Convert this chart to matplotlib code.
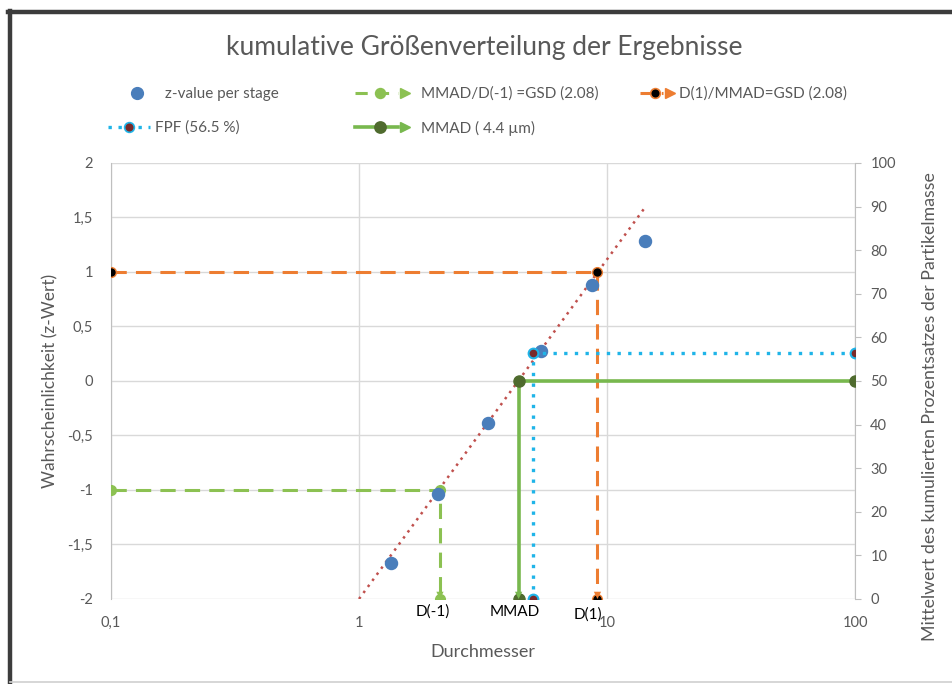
"""
Kumulative Größenverteilung: z-Werte je Stufe, Trendlinie, MMAD/GSD/FPF-Hilfslinien.
"""
import matplotlib
matplotlib.use("Agg")
import matplotlib.pyplot as plt
from matplotlib.lines import Line2D
from matplotlib.legend_handler import HandlerBase
from matplotlib.ticker import FixedLocator, FuncFormatter, NullLocator

plt.rcParams["font.family"] = ["Lato", "DejaVu Sans"]

# z-Werte je Stufe
stage_d = [1.35, 2.08, 3.31, 5.42, 8.70, 14.2]
stage_z = [-1.67, -1.04, -0.385, 0.275, 0.88, 1.28]

# Trendlinie (punktiert)
trend_d = [1.0, 14.2]
trend_z = [-2.0, 1.59]

# D(-1): MMAD/D(-1) = GSD
dm1_d = [0.1, 2.12, 2.12]
dm1_z = [-1.0, -1.0, -2.0]

# D(1): D(1)/MMAD = GSD
d1_d = [0.1, 9.15, 9.15]
d1_z = [1.0, 1.0, -2.0]

# Sekundärachse (%)
fpf_d = [100, 5.03, 5.03]
fpf_pct = [56.5, 56.5, 0.0]
mmad_d = [100, 4.4, 4.4]
mmad_pct = [50.0, 50.0, 0.0]

# Beschriftungen an der x-Achse
mark_labels = ["D(-1)", "MMAD", "D(1)"]
mark_d = [2.12, 4.4, 9.15]
mark_offset = [(-5, -4), (-3, -4), (-7, -6)]  # Punkte, nur Layout

x_ticks = [0.1, 1, 10, 100]
z_ticks = [-2, -1.5, -1, -0.5, 0, 0.5, 1, 1.5, 2]
pct_ticks = list(range(0, 101, 10))

BLUE = "#4a7ebb"
ORANGE = "#ed7d31"
LGREEN = "#8cc152"
GREEN = "#78b84e"
DGREEN = "#4f6b2e"
CYAN = "#1fb4e8"
DRED = "#7a2a2a"
TREND = "#c0504d"
TXT = "#595959"
GRID = "#d9d9d9"
SPINE = "#bfbfbf"

DOT = (0, (1, 2))
DASH = (0, (4, 3))
W, H = 953, 684
PX = 11 * 100 / 72  # Legenden-Schriftgröße in Pixel


def comma(v, pos=None):
    return f"{v:g}".replace(".", ",")


class LineDotArrow(HandlerBase):
    """Linie + Punkt in der Mitte + optionale Pfeilspitze am Ende (wie Excel)."""

    def __init__(self, ls, arrow=True):
        super().__init__()
        self.ls = ls
        self.arrow = arrow

    def create_artists(self, legend, h, xdescent, ydescent, width, height, fontsize, trans):
        y = height / 2 - ydescent
        x0, x1 = -xdescent, width - xdescent
        arts = [Line2D([x0, x1 - (5 if self.arrow else 0)], [y, y], color=h.get_color(),
                       linestyle=self.ls, linewidth=h.get_linewidth()),
                Line2D([(x0 + x1) / 2], [y], marker="o", linestyle="none",
                       markersize=h.get_markersize(), markerfacecolor=h.get_markerfacecolor(),
                       markeredgecolor=h.get_markeredgecolor(), markeredgewidth=1.2)]
        if self.arrow:
            arts.append(Line2D([x1], [y], marker=">", linestyle="none", markersize=7,
                               markerfacecolor=h.get_color(), markeredgecolor=h.get_color()))
        for a in arts:
            a.set_transform(trans)
        return arts


def arrow_down(axis, x, y, color):
    axis.annotate("", xy=(x, y), xytext=(0, 9), textcoords="offset points",
                  arrowprops=dict(arrowstyle="-|>", color=color, lw=0.01,
                                  shrinkA=0, shrinkB=0, mutation_scale=13))


fig = plt.figure(figsize=(9.53, 6.84), dpi=100)
ax = fig.add_axes([0.1165, 0.1243, 0.7807, 0.6374])
ax2 = ax.twinx()

ax.set_xscale("log")
ax.set_xlim(0.1, 100)
ax.set_ylim(-2, 2)
ax2.set_ylim(0, 100)

# Gitter
ax.xaxis.set_major_locator(FixedLocator(x_ticks))
ax.xaxis.set_minor_locator(NullLocator())
ax.xaxis.set_major_formatter(FuncFormatter(comma))
ax.yaxis.set_major_locator(FixedLocator(z_ticks))
ax.yaxis.set_major_formatter(FuncFormatter(comma))
ax.grid(True, color=GRID, linewidth=1.0)
ax.set_axisbelow(True)
for s in ["top", "right", "bottom"]:
    ax.spines[s].set_visible(False)
ax.spines["left"].set_color(SPINE)
for s in ["top", "left", "bottom"]:
    ax2.spines[s].set_visible(False)
ax2.spines["right"].set_color(SPINE)

ax.tick_params(axis="both", length=0, labelsize=10.5, labelcolor=TXT)
ax.tick_params(axis="y", pad=13)
ax.tick_params(axis="x", pad=12)
ax2.yaxis.set_major_locator(FixedLocator(pct_ticks))
ax2.tick_params(axis="y", direction="out", length=4, color=SPINE,
                labelsize=10.5, labelcolor=TXT, pad=7)

# Linien auf Primärachse
ax.plot(trend_d, trend_z, linestyle=DOT, color=TREND, linewidth=1.8, zorder=2)
ax.plot(dm1_d, dm1_z, linestyle=(0, (5, 3)), color=LGREEN, linewidth=2.2, zorder=3,
        marker="o", markersize=7, markerfacecolor=LGREEN, markeredgecolor=LGREEN)
arrow_down(ax, dm1_d[-1], dm1_z[-1], LGREEN)
ax.plot(d1_d, d1_z, linestyle=(0, (5, 3)), color=ORANGE, linewidth=2.2, zorder=3,
        marker="o", markersize=7, markerfacecolor="black", markeredgecolor=ORANGE)
arrow_down(ax, d1_d[-1], d1_z[-1], ORANGE)
ax.scatter(stage_d, stage_z, s=75, color=BLUE, zorder=5)

# Linien auf Sekundärachse
ax2.plot(fpf_d, fpf_pct, linestyle=(0, (1, 2.2)), color=CYAN, linewidth=2.4, zorder=3,
         marker="o", markersize=7, markerfacecolor=DRED, markeredgecolor=CYAN,
         markeredgewidth=1.5)
ax2.plot(mmad_d, mmad_pct, linestyle="-", color=GREEN, linewidth=2.6, zorder=3,
         marker="o", markersize=8, markerfacecolor=DGREEN, markeredgecolor=DGREEN)
arrow_down(ax2, mmad_d[-1], mmad_pct[-1], GREEN)

for lab, d, off in zip(mark_labels, mark_d, mark_offset):
    ax.annotate(lab, xy=(d, -2.0), xytext=off, textcoords="offset points",
                ha="center", va="top", fontsize=11, color="black")

ax.set_xlabel("Durchmesser", fontsize=13, color=TXT)
ax.xaxis.set_label_coords(0.5, (599 - 644) / 436)
ax.set_ylabel("Wahrscheinlichkeit (z-Wert)", fontsize=12.5, color=TXT, labelpad=6)
ax2.set_ylabel("Mittelwert des kumulierten Prozentsatzes der Partikelmasse",
               fontsize=12.8, color=TXT)
ax2.yaxis.set_label_coords((922 - 111) / 744, (599 - 407) / 436)

fig.text(0.508, 0.931, "kumulative Größenverteilung der Ergebnisse",
         ha="center", va="center", fontsize=19, color=TXT)

# Legende: Excel setzt die Einträge frei, daher je Eintrag eine eigene Legende
h_z = Line2D([], [], marker="o", linestyle="none", markersize=8.5,
             markerfacecolor=BLUE, markeredgecolor=BLUE)
h_fpf = Line2D([], [], color=CYAN, linewidth=2.4, markersize=7,
               markerfacecolor=DRED, markeredgecolor=CYAN)
h_dm1 = Line2D([], [], color=LGREEN, linewidth=2.2, markersize=7,
               markerfacecolor=LGREEN, markeredgecolor=LGREEN)
h_mmad = Line2D([], [], color=GREEN, linewidth=2.6, markersize=8,
                markerfacecolor=DGREEN, markeredgecolor=DGREEN)
h_d1 = Line2D([], [], color=ORANGE, linewidth=2.2, markersize=7,
              markerfacecolor="black", markeredgecolor=ORANGE)
entries = [
    # handle, text, handler, left px, handle px, pad px, row y px
    (h_z, "z-value per stage", None, 122, 30, 13, 94),
    (h_dm1, "MMAD/D(-1) =GSD (2.08)", LineDotArrow(DASH), 355, 50, 16, 94),
    (h_d1, "D(1)/MMAD=GSD (2.08)", LineDotArrow(DASH), 640, 30, 9, 94),
    (h_fpf, "FPF (56.5 %)", LineDotArrow(DOT, arrow=False), 108, 42, 5, 128),
    (h_mmad, "MMAD ( 4.4 µm)", LineDotArrow("-"), 355, 50, 16, 128),
]
for h, text, handler, x, hl, pad, y in entries:
    fig.legend([h], [text], loc="center left", bbox_to_anchor=(x / W, 1 - y / H),
               frameon=False, fontsize=11, labelcolor=TXT, borderpad=0,
               borderaxespad=0, handlelength=hl / PX, handletextpad=pad / PX,
               handler_map={h: handler} if handler else None)

# Rahmen
fig.add_artist(Line2D([8 / W, 1], [1 - 12 / H] * 2, transform=fig.transFigure,
                      color="#3c3c3c", linewidth=3.2))
fig.add_artist(Line2D([10 / W] * 2, [0, 1 - 11 / H], transform=fig.transFigure,
                      color="#3c3c3c", linewidth=3.2))
fig.add_artist(Line2D([10 / W, 1], [2 / H] * 2, transform=fig.transFigure,
                      color="#d0d0d0", linewidth=1.2))

fig.savefig("out.png", dpi=100, facecolor="white")
